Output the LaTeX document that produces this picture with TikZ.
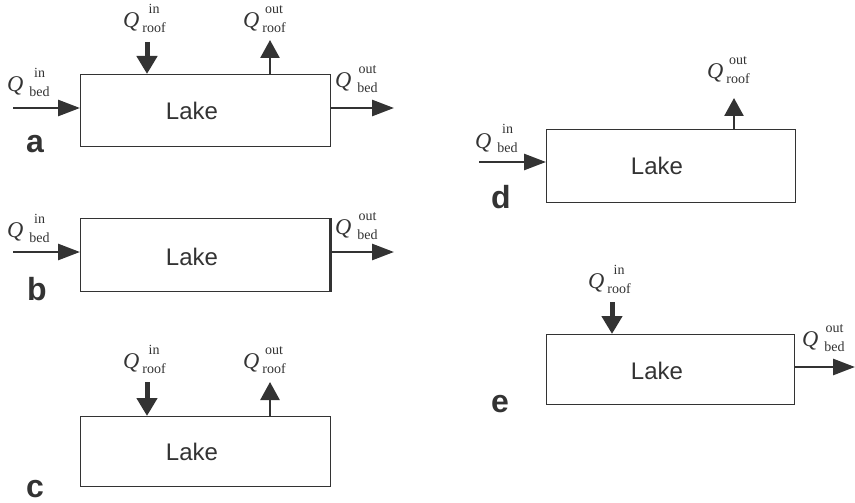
\documentclass[tikz,border=0pt]{standalone}
\usepackage{fontspec}
\setmainfont{Liberation Serif}
\setsansfont{Liberation Sans}
\usetikzlibrary{arrows.meta}
\definecolor{ink}{HTML}{333333}
\newcommand\ql[3][3pt]{\textit{Q}\kern#1\raisebox{-5pt}{\fontsize{14}{19}\selectfont\renewcommand\arraystretch{1}\begin{tabular}[b]{@{}c@{}}#2\\#3\end{tabular}}}
\tikzset{
  lakebox/.style={draw=ink, line width=1.4pt, minimum width=250pt, minimum height=72pt, inner sep=0pt},
  laketext/.style={font=\sffamily\fontsize{24}{26}\selectfont, text=ink, anchor=base, inner sep=0pt},
  qlabel/.style={font=\fontsize{22.5}{26}\selectfont, text=ink, anchor=base west, inner sep=0pt},
  panel/.style={font=\sffamily\bfseries\fontsize{32}{34}\selectfont, text=ink, anchor=base west, inner sep=0pt},
  bedarrow/.style={draw=ink, line width=2.8pt, -{Triangle[length=22pt,width=16pt]}},
  roofin/.style={draw=ink, line width=5pt, -{Triangle[length=18pt,width=20pt]}},
  roofout/.style={draw=ink, line width=2.6pt, -{Triangle[length=18pt,width=19pt]}},
}
\begin{document}
\begin{tikzpicture}[x=1pt,y=-1pt]
\useasboundingbox (0,0) rectangle (855,503);
% ---- a ----
\node[lakebox, anchor=north west] (A) at (80,74) {};
\node[laketext] (Atext) at (192,120) {Lake};
\node[panel] (Alab) at (26,153) {a};
\coordinate (Ainstart) at (13,108);
\draw[bedarrow] (Ainstart) -- (A.west |- Ainstart);
\coordinate (Aoutend) at (394,108);
\draw[bedarrow] (A.east |- Aoutend) -- (Aoutend);
\coordinate (Arinstart) at (147,42);
\draw[roofin] (Arinstart) -- (A.north -| Arinstart);
\coordinate (Aroutend) at (270,40);
\draw[roofout] (A.north -| Aroutend) -- (Aroutend);
\node[qlabel] (Aqri) at (123,28) {\ql{in}{roof}};
\node[qlabel] (Aqro) at (243,28) {\ql{out}{roof}};
\node[qlabel] (Aqbi) at (7,92) {\ql[6pt]{in}{bed}};
\node[qlabel] (Aqbo) at (335,88) {\ql[6pt]{out}{bed}};
% ---- b ----
\node[lakebox, anchor=north west, minimum width=249pt, minimum height=73pt] (B) at (80,218) {};
\draw[ink, line width=3pt] (B.north east) -- (B.south east);
\node[laketext] (Btext) at (192,265) {Lake};
\node[panel] (Blab) at (27,300) {b};
\coordinate (Binstart) at (13,252);
\draw[bedarrow] (Binstart) -- (B.west |- Binstart);
\coordinate (Boutend) at (394,252);
\draw[bedarrow] (B.east |- Boutend) -- (Boutend);
\node[qlabel] (Bqbi) at (7,237) {\ql[6pt]{in}{bed}};
\node[qlabel] (Bqbo) at (335,234) {\ql[6pt]{out}{bed}};
% ---- c ----
\node[lakebox, anchor=north west, minimum height=70pt] (C) at (80,416) {};
\node[laketext] (Ctext) at (192,460) {Lake};
\node[panel] (Clab) at (26,497) {c};
\coordinate (Crinstart) at (147,382);
\draw[roofin] (Crinstart) -- (C.north -| Crinstart);
\coordinate (Croutend) at (270,382);
\draw[roofout] (C.north -| Croutend) -- (Croutend);
\node[qlabel] (Cqri) at (123,368) {\ql{in}{roof}};
\node[qlabel] (Cqro) at (243,368) {\ql{out}{roof}};
% ---- d ----
\node[lakebox, anchor=north west, minimum width=249pt, minimum height=73pt] (D) at (546,129) {};
\node[laketext] (Dtext) at (657,175) {Lake};
\node[panel] (Dlab) at (491,208) {d};
\coordinate (Dinstart) at (479,162);
\draw[bedarrow] (Dinstart) -- (D.west |- Dinstart);
\coordinate (Droutend) at (734,98);
\draw[roofout] (D.north -| Droutend) -- (Droutend);
\node[qlabel] (Dqro) at (707,79) {\ql{out}{roof}};
\node[qlabel] (Dqbi) at (475,148) {\ql[6pt]{in}{bed}};
% ---- e ----
\node[lakebox, anchor=north west, minimum width=248pt, minimum height=70pt] (E) at (546,334) {};
\node[laketext] (Etext) at (657,379) {Lake};
\node[panel] (Elab) at (491,412) {e};
\coordinate (Erinstart) at (612,302);
\draw[roofin] (Erinstart) -- (E.north -| Erinstart);
\coordinate (Eoutend) at (855,367);
\draw[bedarrow] (E.east |- Eoutend) -- (Eoutend);
\node[qlabel] (Eqri) at (588,288) {\ql{in}{roof}};
\node[qlabel] (Eqbo) at (802,346) {\ql[6pt]{out}{bed}};
\end{tikzpicture}
\end{document}
